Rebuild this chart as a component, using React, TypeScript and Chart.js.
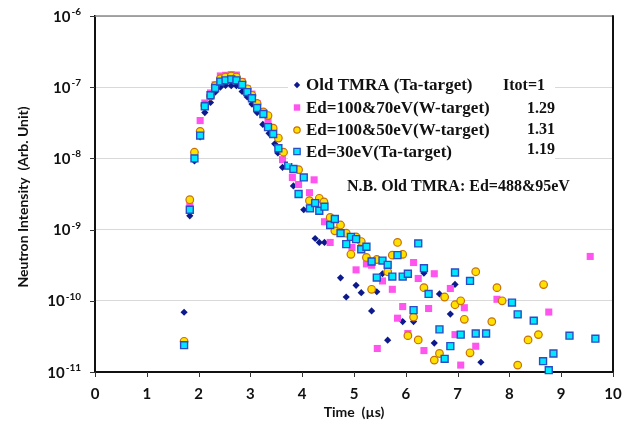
import React, { useEffect, useRef } from 'react';
import { Chart, registerables } from 'chart.js';

Chart.register(...registerables);

const xTicks = [0, 1, 2, 3, 4, 5, 6, 7, 8, 9, 10];
const yTickExps = [-6, -7, -8, -9, -10, -11];
const seriesNames = ['Old TMRA (Ta-target)', 'Ed=100&70eV(W-target)', 'Ed=100&50eV(W-target)', 'Ed=30eV(Ta-target)'];
const itotLabels = ['Itot=1', '1.29', '1.31', '1.19'];
const noteText = 'N.B. Old TMRA: Ed=488&95eV';
const xTitle = 'Time  (\u00b5s)';
const yTitle = 'Neutron Intensity  (Arb. Unit)';

const oldTmra: [number, number][] = [
  [1.72, 6.9e-11], [1.83, 1.56e-9], [1.92, 9.2e-9], [2.03, 2.0e-8], [2.12, 4.4e-8], [2.23, 6.1e-8],
  [2.32, 8.5e-8], [2.42, 1.0e-7], [2.52, 1.06e-7], [2.63, 1.05e-7], [2.73, 1.05e-7], [2.84, 8.7e-8],
  [2.94, 7.3e-8], [3.03, 5.8e-8], [3.13, 4.4e-8], [3.24, 3.0e-8], [3.36, 2.25e-8], [3.47, 1.6e-8],
  [3.53, 1.19e-8], [3.62, 7.5e-9], [3.83, 4.1e-9], [4.03, 1.9e-9], [4.25, 7.5e-10], [4.33, 6.6e-10],
  [4.43, 6.6e-10], [4.74, 2.1e-10], [4.85, 1.13e-10], [5.04, 1.65e-10], [5.14, 1.3e-10], [5.34, 7.2e-11],
  [5.44, 1.34e-10], [5.55, 2.4e-10], [5.65, 2.8e-11], [5.94, 5.1e-11], [6.15, 5.1e-11], [6.35, 2.45e-10],
  [6.55, 2.55e-11], [6.65, 1.25e-10], [6.86, 6.5e-11], [6.95, 1.7e-10], [7.45, 1.37e-11],
];

const ed70: [number, number][] = [
  [1.72, 2.5e-11], [1.83, 2.2e-9], [1.92, 1.1e-8], [2.03, 3.4e-8], [2.12, 6.0e-8], [2.23, 8.3e-8],
  [2.32, 1.08e-7], [2.42, 1.44e-7], [2.52, 1.47e-7], [2.63, 1.5e-7], [2.73, 1.48e-7], [2.84, 1.2e-7],
  [2.94, 9.5e-8], [3.03, 8.0e-8], [3.13, 5.9e-8], [3.25, 4.4e-8], [3.34, 3.3e-8], [3.44, 2.3e-8],
  [3.62, 9.6e-9], [3.81, 5.4e-9], [3.93, 4.3e-9], [4.14, 3.3e-9], [4.23, 5.0e-9], [4.33, 1.84e-9],
  [4.43, 1.29e-9], [4.54, 6.6e-10], [4.96, 5.6e-10], [5.04, 2.72e-10], [5.24, 3.3e-10], [5.34, 3.16e-10],
  [5.45, 2.14e-11], [5.55, 1.9e-10], [5.74, 1.45e-10], [5.84, 5.7e-11], [5.94, 8.3e-11], [6.04, 3.47e-11],
  [6.15, 3.45e-10], [6.24, 2.06e-10], [6.35, 2.0e-11], [6.44, 7.8e-11], [6.55, 2.4e-10], [6.86, 1.49e-10],
  [6.95, 3.35e-11], [7.06, 1.25e-11], [7.13, 8.0e-11], [7.35, 2.3e-11], [7.76, 1.05e-10], [8.76, 6.95e-11],
  [9.56, 4.2e-10],
];

const ed50: [number, number][] = [
  [1.72, 2.7e-11], [1.83, 2.63e-9], [1.92, 1.22e-8], [2.03, 2.4e-8], [2.12, 5.6e-8], [2.23, 7.5e-8],
  [2.32, 1.05e-7], [2.42, 1.32e-7], [2.52, 1.39e-7], [2.63, 1.44e-7], [2.73, 1.39e-7], [2.84, 1.18e-7],
  [2.94, 9.5e-8], [3.03, 7.7e-8], [3.13, 5.9e-8], [3.25, 4.5e-8], [3.34, 4.0e-8], [3.44, 2.66e-8],
  [3.54, 1.93e-8], [3.64, 1.22e-8], [3.93, 6.95e-9], [4.14, 2.55e-9], [4.33, 2.75e-9], [4.42, 2.45e-9],
  [4.54, 1.48e-9], [4.63, 9.6e-10], [4.74, 1.16e-9], [4.85, 8.9e-10], [4.94, 4.5e-10], [5.04, 7.9e-10],
  [5.14, 6.8e-10], [5.24, 4.06e-10], [5.34, 1.45e-10], [5.44, 3.8e-10], [5.65, 2.56e-10], [5.74, 4.38e-10],
  [5.84, 6.6e-10], [5.94, 4.5e-10], [6.04, 3.24e-11], [6.15, 5.9e-11], [6.24, 2.82e-11], [6.35, 1.53e-10],
  [6.55, 1.47e-11], [6.65, 1.82e-11], [6.75, 1.13e-10], [6.95, 8.8e-11], [7.06, 1.0e-10], [7.13, 5.5e-11],
  [7.24, 1.86e-11], [7.35, 2.56e-10], [7.66, 5.1e-11], [7.76, 1.53e-10], [7.86, 1.0e-10], [8.16, 1.25e-11],
  [8.36, 2.82e-11], [8.56, 3.35e-11], [8.66, 1.69e-10],
];

const ed30: [number, number][] = [
  [1.72, 2.38e-11], [1.83, 1.9e-9], [1.92, 1.0e-8], [2.03, 2.09e-8], [2.12, 5.4e-8], [2.23, 7.7e-8],
  [2.32, 9.75e-8], [2.42, 1.2e-7], [2.52, 1.25e-7], [2.63, 1.29e-7], [2.73, 1.25e-7], [2.84, 1.08e-7],
  [2.94, 8.55e-8], [3.03, 7.0e-8], [3.13, 5.1e-8], [3.25, 4.2e-8], [3.34, 2.75e-8], [3.44, 2.2e-8],
  [3.54, 1.39e-8], [3.73, 7.9e-9], [3.83, 7.1e-9], [3.93, 3.16e-9], [4.03, 5.4e-9], [4.15, 1.99e-9],
  [4.25, 2.36e-9], [4.33, 1.84e-9], [4.43, 2.1e-9], [4.54, 1.16e-9], [4.63, 1.41e-9], [4.74, 8.9e-10],
  [4.85, 6.25e-10], [4.94, 7.9e-10], [5.04, 7.35e-10], [5.14, 5.3e-10], [5.24, 5.75e-10], [5.34, 3.56e-10],
  [5.44, 2.12e-10], [5.55, 3.67e-10], [5.65, 3.2e-10], [5.74, 2.19e-10], [5.84, 4.38e-10], [5.94, 2.19e-10],
  [6.04, 2.4e-10], [6.15, 7.4e-11], [6.24, 6.4e-10], [6.35, 2.87e-10], [6.44, 1.25e-10], [6.65, 3.97e-11],
  [6.75, 1.53e-11], [6.86, 2.31e-11], [6.95, 2.5e-10], [7.06, 3.35e-11], [7.24, 1.9e-10], [7.35, 3.47e-11],
  [7.55, 3.47e-11], [8.05, 9.44e-11], [8.16, 6.46e-11], [8.47, 5.26e-11], [8.65, 1.42e-11], [8.76, 1.06e-11],
  [8.85, 1.82e-11], [9.16, 3.24e-11], [9.66, 2.94e-11],
];

const NAVY = '#0d1a8c';
const MAGENTA = '#ff55ee';
const YELLOW = '#ffe100';
const YELLOW_EDGE = '#c8700a';
const CYAN = '#00e8ff';
const CYAN_EDGE = '#2a4cc4';

const styles = [
  { fill: NAVY, edge: NAVY, shape: 'diamond' },
  { fill: MAGENTA, edge: MAGENTA, shape: 'square' },
  { fill: YELLOW, edge: YELLOW_EDGE, shape: 'circle' },
  { fill: CYAN, edge: CYAN_EDGE, shape: 'square' },
];

function drawMarker(ctx: CanvasRenderingContext2D, shape: string, x: number, y: number, fill: string, edge: string) {
  ctx.save();
  ctx.fillStyle = fill;
  ctx.strokeStyle = edge;
  ctx.lineWidth = 1.2;
  ctx.beginPath();
  if (shape === 'diamond') {
    const r = 3.2;
    ctx.moveTo(x, y - r); ctx.lineTo(x + r, y); ctx.lineTo(x, y + r); ctx.lineTo(x - r, y); ctx.closePath();
    ctx.fill();
  } else if (shape === 'circle') {
    ctx.arc(x, y, 3.2, 0, Math.PI * 2);
    ctx.fill(); ctx.stroke();
  } else {
    ctx.rect(x - 3.2, y - 3.2, 6.4, 6.4);
    ctx.fill();
    if (edge !== fill) ctx.stroke();
  }
  ctx.restore();
}

const decorPlugin = {
  id: 'decor',
  afterDatasetsDraw(chart: any) {
    const ctx: CanvasRenderingContext2D = chart.ctx;
    ctx.save();
    ctx.fillStyle = '#ffffff';
    ctx.fillRect(288, 75, 267, 88);
    const rowsY = [85, 107.5, 130, 151.5];
    ctx.textBaseline = 'middle';
    ctx.textAlign = 'left';
    seriesNames.forEach((name, i) => {
      const st = styles[i];
      drawMarker(ctx, st.shape, 297, rowsY[i], st.fill, st.edge);
      ctx.fillStyle = '#111';
      ctx.font = 'bold 17px "Liberation Serif"';
      ctx.fillText(name, 306, rowsY[i] + 1);
    });
    ctx.fillStyle = '#111';
    ctx.font = 'bold 16px "Liberation Serif"';
    const numY = [85, 108, 128.5, 148.5];
    itotLabels.forEach((t, i) => {
      ctx.fillText(t, i === 0 ? 503 : 527, numY[i] + 1);
    });
    ctx.fillText(noteText, 347, 187);
    ctx.restore();
  },
  afterDraw(chart: any) {
    const ctx: CanvasRenderingContext2D = chart.ctx;
    const { left, right, top, bottom } = chart.chartArea;
    const xs = chart.scales.x;
    const ys = chart.scales.y;
    ctx.save();
    ctx.strokeStyle = '#8a8a8a';
    ctx.lineWidth = 1.5;
    ctx.beginPath(); ctx.moveTo(left, top); ctx.lineTo(right, top); ctx.stroke();
    ctx.strokeStyle = '#111';
    ctx.lineWidth = 2;
    ctx.beginPath(); ctx.moveTo(right, top - 0.75); ctx.lineTo(right, bottom); ctx.stroke();
    ctx.strokeStyle = '#333';
    ctx.lineWidth = 1;
    xTicks.forEach((v) => {
      const px = Math.round(xs.getPixelForValue(v)) + 0.5;
      ctx.beginPath(); ctx.moveTo(px, bottom); ctx.lineTo(px, bottom + 5); ctx.stroke();
    });
    yTickExps.forEach((e) => {
      const py = Math.round(ys.getPixelForValue(Math.pow(10, e))) + 0.5;
      ctx.beginPath(); ctx.moveTo(left - 5, py); ctx.lineTo(left, py); ctx.stroke();
    });
    ctx.fillStyle = '#111';
    ctx.font = 'bold 15px Lato';
    ctx.textAlign = 'center';
    ctx.textBaseline = 'middle';
    xTicks.forEach((v) => {
      ctx.fillText(String(v), xs.getPixelForValue(v), 394);
    });
    yTickExps.forEach((e) => {
      const py = ys.getPixelForValue(Math.pow(10, e));
      ctx.textAlign = 'right';
      ctx.textBaseline = 'alphabetic';
      ctx.font = 'bold 10px Lato';
      const sup = String(e);
      const sw = ctx.measureText(sup).width;
      ctx.fillText(sup, 81, py - 1);
      ctx.font = 'bold 15px Lato';
      ctx.fillText('10', 81 - sw - 1, py + 5.5);
    });
    ctx.font = 'bold 14px Lato';
    ctx.textAlign = 'center';
    ctx.textBaseline = 'middle';
    ctx.fillText(xTitle, 354, 412);
    ctx.translate(23, 197);
    ctx.rotate(-Math.PI / 2);
    ctx.fillText(yTitle, 0, 0);
    ctx.restore();
  },
};

export default function App() {
  const ref = useRef<HTMLCanvasElement>(null);
  useEffect(() => {
    if (!ref.current) return;
    const mk = (label: string, data: [number, number][], i: number, order: number) => {
      const st = styles[i];
      const common: any = {
        label,
        data: data.map(([x, y]) => ({ x, y })),
        backgroundColor: st.fill,
        borderColor: st.edge,
        order,
        clip: false,
      };
      if (st.shape === 'diamond') return { ...common, pointStyle: 'rectRot', pointRadius: 3.6, borderWidth: 0 };
      if (st.shape === 'circle') return { ...common, pointStyle: 'circle', pointRadius: 3.8, borderWidth: 1.2 };
      if (i === 1) return { ...common, pointStyle: 'rect', pointRadius: 5, borderWidth: 0 };
      return { ...common, pointStyle: 'rect', pointRadius: 4.9, borderWidth: 1.4 };
    };
    const chart = new Chart(ref.current, {
      type: 'scatter',
      data: {
        datasets: [
          mk(seriesNames[0], oldTmra, 0, 4),
          mk(seriesNames[1], ed70, 1, 3),
          mk(seriesNames[2], ed50, 2, 2),
          mk(seriesNames[3], ed30, 3, 1),
        ],
      },
      options: {
        animation: false,
        responsive: false,
        events: [],
        layout: { padding: { top: 16, right: 19, left: 0, bottom: 0 } },
        plugins: { legend: { display: false }, tooltip: { enabled: false } },
        scales: {
          x: {
            type: 'linear',
            min: 0,
            max: 10,
            ticks: { display: false, stepSize: 1 },
            grid: { display: false },
            border: { display: true, color: '#111', width: 2 },
            afterFit: (s: any) => { s.height = 50; },
          },
          y: {
            type: 'logarithmic',
            min: 1e-11,
            max: 1e-6,
            ticks: { display: false },
            afterBuildTicks: (s: any) => { s.ticks = yTickExps.map((e) => ({ value: Math.pow(10, e) })); },
            grid: { color: '#d9d9d9', lineWidth: 1, drawTicks: false },
            border: { display: true, color: '#111', width: 2 },
            afterFit: (s: any) => { s.width = 95; },
          },
        },
      } as any,
      plugins: [decorPlugin],
    });
    return () => chart.destroy();
  }, []);
  return (
    <div style={{ position: 'fixed', left: 0, top: 0, width: 632, height: 422, background: '#fff' }}>
      <canvas ref={ref} width={632} height={422} style={{ display: 'block' }} />
    </div>
  );
}
